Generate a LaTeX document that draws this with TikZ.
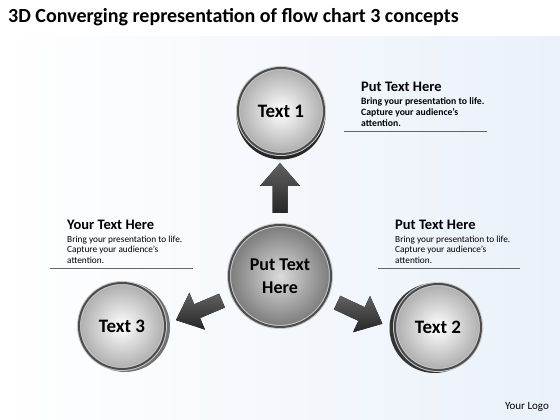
\documentclass[tikz,border=0pt]{standalone}
\usepackage{fontspec}
\setmainfont{Carlito}
\usetikzlibrary{calc}
\definecolor{bgblue}{RGB}{234,241,250}
\tikzset{
	bubble/.style={circle, draw=black!22, double=black!70, line width=1pt, double distance=2pt,
		inner color=white, outer color=black!32, minimum size=86pt,
		font=\fontsize{19}{22}\selectfont\bfseries},
	hub/.style={bubble, inner color=black!14, outer color=black!52, minimum size=102pt,
		align=center, font=\fontsize{18}{23}\selectfont\bfseries},
	headtxt/.style={anchor=base west, inner sep=0pt, font=\fontsize{14.5}{16}\selectfont\bfseries},
	bodytxt/.style={anchor=north west, inner sep=0pt, align=left, font=\fontsize{9.3}{10.5}\selectfont},
	bodybold/.style={bodytxt, font=\fontsize{9.7}{11}\selectfont\bfseries},
	arrowfill/.style={top color=black!62, bottom color=black!85},
}
\def\blockarrow(#1:#2){\fill[arrowfill, shift={(#1)}, rotate=#2] (63,-7.5) -- (90,-7.5) -- (90,-20) -- (113,0) -- (90,20) -- (90,7.5) -- (63,7.5) -- cycle;}

\begin{document}
\begin{tikzpicture}[x=1pt, y=1pt]
		%%%%% START %%%%%
		\useasboundingbox (0,0) rectangle (560,420);
		\fill[white] (0,0) rectangle (560,420);
		\shade[left color=white, right color=bgblue] (0,0) rectangle (560,383);
		
		\node[anchor=base west, inner sep=0pt, font=\fontsize{20}{24}\selectfont\bfseries] (title) at (8,397) {3D Converging representation of flow chart 3 concepts};
		
		\coordinate (c1) at (281,309);
		\coordinate (c2) at (438,93);
		\coordinate (c3) at (122,94);
		
		% dark rims under the bubbles
		\fill[black!85] ($(c1)+(0,-4)$) circle (44.5);
		\fill[black!80] ($(c2)+(-3.5,-1)$) circle (45);
		\fill[black!55] ($(c3)+(3,-1)$) circle (45);
		
		\node[hub] (hub) at (280,144) {Put Text\\Here};
		\node[bubble] (t1) at (c1) {Text 1};
		\node[bubble] (t2) at (c2) {Text 2};
		\node[bubble] (t3) at (c3) {Text 3};
		
		\blockarrow(hub:90)
		\blockarrow(hub:-25)
		\blockarrow(hub:203)
		
		\node[headtxt] (h1) at (361,328.5) {Put Text Here};
		\node[bodybold] (b1) at (361,323) {Bring your presentation to life.\\Capture your audience's\\attention.};
		\draw[black!60, line width=0.8pt] (344,289) -- (487,289);
		
		\node[headtxt] (h3) at (67,190.5) {Your Text Here};
		\node[bodytxt] (b3) at (67,184.5) {Bring your presentation to life.\\Capture your audience's\\attention.};
		\draw[black!60, line width=0.8pt] (50,152) -- (193,152);
		
		\node[headtxt] (h2) at (395,190.5) {Put Text Here};
		\node[bodytxt] (b2) at (395,184.5) {Bring your presentation to life.\\Capture your audience's\\attention.};
		\draw[black!60, line width=0.8pt] (378,152) -- (520,152);
		
		\node[font=\fontsize{11}{13}\selectfont] (logo) at (527,13) {Your Logo};
		%%%%% END %%%%%
\end{tikzpicture}
\end{document}
